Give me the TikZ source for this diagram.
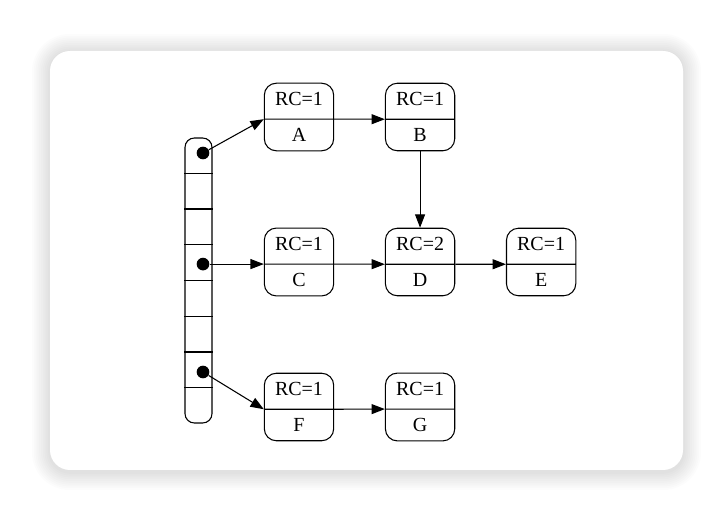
\documentclass[tikz,border=0pt]{standalone}
\usepackage{fontspec}
\setmainfont{Liberation Serif}
\usetikzlibrary{positioning, arrows.meta, shapes.multipart, calc}

\begin{document}
\begin{tikzpicture}[x=0.75pt, y=-0.75pt,
        rc/.style={rectangle split, rectangle split parts=2, draw, line width=0.8pt,
            rounded corners=9pt, text width=52pt, align=center, inner xsep=0pt,
            inner ysep=6.5pt, text height=10pt, text depth=3.2pt,
            font=\fontsize{15}{17}\selectfont},
        slot/.style={circle, fill=black, inner sep=0pt, minimum size=9.5pt},
        link/.style={-{Triangle[length=10pt, width=7.5pt]}, line width=0.8pt}]
        \useasboundingbox (0,0) rectangle (719,516);
        % card and its soft shadow
        \foreach \s [evaluate=\s as \r using 15+1.3*\s] in {1,...,10}
            \fill[black, opacity=0.011, rounded corners=\r pt]
                (50-1.8*\s,52-1.8*\s) rectangle (683+1.8*\s,472+1.8*\s);
        \fill[white, rounded corners=15pt] (50,51) rectangle (683,470);

        % objects
        \node[rc] (A) at (299,117) {RC=1 \nodepart{two} A};
        \node[rc, right=38pt of A] (B) {RC=1 \nodepart{two} B};
        \node[rc] (C) at (299,262) {RC=1 \nodepart{two} C};
        \node[rc, right=38pt of C] (D) {RC=2 \nodepart{two} D};
        \node[rc, right=38pt of D] (E) {RC=1 \nodepart{two} E};
        \node[rc] (F) at (299,407) {RC=1 \nodepart{two} F};
        \node[rc, right=38pt of F] (G) {RC=1 \nodepart{two} G};

        % the slot array
        \node[draw, line width=0.8pt, rounded corners=7pt, minimum width=20.25pt,
            minimum height=213.75pt, inner sep=0pt] (arr) at (198.5,280.5) {};
        \foreach \k in {1,...,7}
            \draw[line width=0.8pt] ($(arr.north west)!\k/8!(arr.south west)$)
                -- ($(arr.north east)!\k/8!(arr.south east)$);
        \node[slot] (p1) at (203,153) {};
        \node[slot] (p2) at ($(arr.center |- C.text split west)+(4.5,0)$) {};
        \node[slot] (p3) at (203,372) {};

        % references
        \draw[link] (p1) -- (A.text split west);
        \draw[link] (p2) -- (C.text split west);
        \draw[link] (p3) -- (F.text split west);
        \draw[link] (A.text split east) -- (B.text split west);
        \draw[link] (B.south) -- (D.north);
        \draw[link] (C.text split east) -- (D.text split west);
        \draw[link] (D.text split east) -- (E.text split west);
        \draw[link] (F.text split east) -- (G.text split west);
\end{tikzpicture}
\end{document}
